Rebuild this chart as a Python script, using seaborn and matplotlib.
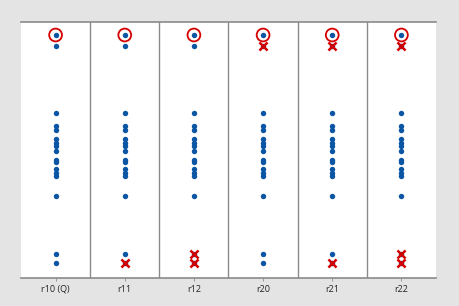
import matplotlib
matplotlib.use("Agg")
import matplotlib.pyplot as plt
import seaborn as sns
import pandas as pd

categories = ["r10 (Q)", "r11", "r12", "r20", "r21", "r22"]
values = [243, 232, 165, 152, 148, 139, 135.5, 132, 127.3, 118, 116, 109,
          105.3, 102, 81.7, 23.7, 14.7]
circled_cats = ["r10 (Q)", "r11", "r12", "r20", "r21", "r22"]
circled_vals = [243, 243, 243, 243, 243, 243]
crossed_cats = ["r11", "r12", "r12", "r20", "r21", "r21", "r22", "r22", "r22"]
crossed_vals = [14.7, 23.7, 14.7, 232, 232, 14.7, 232, 23.7, 14.7]

BLUE = "#0b56a4"
RED = "#d40000"
BG = "#e4e4e4"

df = pd.DataFrame([(c, v) for c in categories for v in values], columns=["cat", "val"])
df_circ = pd.DataFrame({"cat": circled_cats, "val": circled_vals})
df_x = pd.DataFrame({"cat": crossed_cats, "val": crossed_vals})

sns.set_style("white")
plt.rcParams["font.family"] = ["Open Sans", "DejaVu Sans"]

fig = plt.figure(figsize=(4.59, 3.06), dpi=100, facecolor=BG)
ax = fig.add_axes([21 / 459, 28 / 306, 415 / 459, 256 / 306])
ax.set_facecolor("white")

sns.stripplot(data=df, x="cat", y="val", order=categories, jitter=False,
              color=BLUE, size=3.9, linewidth=0, ax=ax, zorder=3)
sns.scatterplot(data=df_circ, x="cat", y="val", marker="o", s=85,
                facecolors="none", edgecolor=RED, linewidth=1.3, ax=ax,
                zorder=4, legend=False)
sns.scatterplot(data=df_x, x="cat", y="val", marker="x", s=34,
                color=RED, linewidth=1.8, ax=ax, zorder=4, legend=False)

ax.set_xlim(-0.5, len(categories) - 0.5)
ax.set_ylim(0, 256)
for i in range(len(categories) - 1):
    ax.axvline(i + 0.5, color="#8a8a8a", linewidth=1.0, zorder=1)

for side in ["left", "right"]:
    ax.spines[side].set_visible(False)
for side in ["top", "bottom"]:
    ax.spines[side].set_visible(True)
    ax.spines[side].set_color("#8a8a8a")
    ax.spines[side].set_linewidth(1.2)

ax.set_yticks([])
ax.set_xlabel("")
ax.set_ylabel("")
ax.tick_params(axis="x", length=2, width=0.6, color="#8a8a8a", labelsize=6.5,
               pad=3, labelcolor="#222222", bottom=True)

fig.savefig("out.png", dpi=100, facecolor=BG)
